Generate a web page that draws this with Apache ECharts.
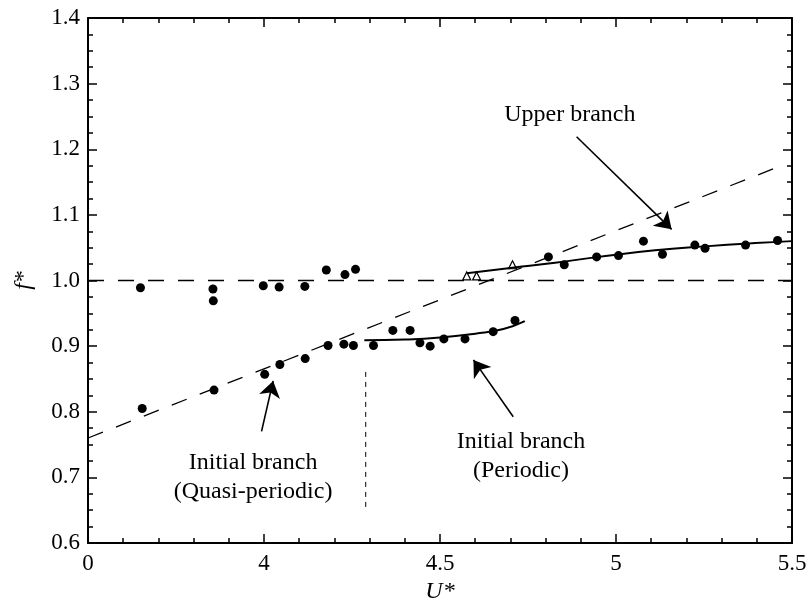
<!DOCTYPE html>
<html>
<head>
<meta charset="utf-8">
<script src="https://cdn.jsdelivr.net/npm/echarts@6/dist/echarts.min.js"></script>
<style>html,body{margin:0;padding:0;background:#fff}#chart{width:809px;height:608px}</style>
</head>
<body>
<div id="chart"></div>
<script>
// ---- data ----
const xTickValues = [3.5, 4, 4.5, 5, 5.5];
const xTickLabels = ['0', '4', '4.5', '5', '5.5'];
const circleU = [3.649,3.654,3.855,3.856,3.858,3.998,4.002,4.043,4.045,4.116,4.117,4.177,4.182,4.230,4.227,4.260,4.254,4.311,4.366,4.415,4.443,4.472,4.511,4.571,4.651,4.713,4.808,4.853,4.945,5.007,5.078,5.132,5.224,5.253,5.368,5.459];
const circleF = [0.989,0.805,0.987,0.969,0.833,0.992,0.857,0.990,0.872,0.991,0.881,1.016,0.901,1.009,0.903,1.017,0.901,0.901,0.924,0.924,0.905,0.900,0.911,0.911,0.922,0.939,1.036,1.024,1.036,1.038,1.060,1.040,1.054,1.049,1.054,1.061];
const triU = [4.576, 4.604, 4.706];
const triF = [1.007, 1.007, 1.024];
const periodicFitU = [4.285, 4.40, 4.50, 4.60, 4.68, 4.741];
const periodicFitF = [0.909, 0.910, 0.913, 0.919, 0.926, 0.938];
const upperFitU = [4.576, 4.70, 4.827, 4.95, 5.111, 5.253, 5.395, 5.50];
const upperFitF = [1.011, 1.019, 1.027, 1.036, 1.046, 1.052, 1.057, 1.060];
const unityU = [3.5, 5.5];
const unityF = [1.0, 1.0];
const diagU = [3.5, 5.47];
const diagF = [0.76, 1.175];
const splitU = [4.289, 4.289];
const splitF = [0.655, 0.861];
const labelTexts = ['Upper branch', 'Initial branch\n(Quasi-periodic)', 'Initial branch\n(Periodic)'];
const labelU = [4.869, 3.969, 4.730];
const labelF = [1.252, 0.700, 0.732];
const arrowFromU = [4.888, 3.993, 4.708];
const arrowFromF = [1.219, 0.770, 0.7925];
const arrowToU = [5.158, 4.026, 4.595];
const arrowToF = [1.078, 0.847, 0.879];

const zip = (a, b) => a.map((v, i) => [v, b[i]]);
const FONT = '"Liberation Serif", "Times New Roman", serif';
const INK = '#000';

const axisCommon = {
  axisLine: { show: true, onZero: false, lineStyle: { color: INK, width: 2 } },
  axisTick: { show: true, inside: true, length: 9, lineStyle: { color: INK, width: 1.5 } },
  minorTick: { show: true, length: 5, lineStyle: { color: INK, width: 1.5 } },
  splitLine: { show: false }
};

const chart = echarts.init(document.getElementById('chart'), null, { renderer: 'canvas' });
const option = {
  animation: false,
  backgroundColor: '#fff',
  grid: { left: 88, right: 17, top: 18, bottom: 65, containLabel: false, outerBoundsMode: 'none' },
  xAxis: [
    Object.assign({}, axisCommon, {
      type: 'value', min: 3.5, max: 5.5, interval: 0.5, position: 'bottom',
      minorTick: Object.assign({}, axisCommon.minorTick, { splitNumber: 5 }),
      axisLabel: { margin: 9, color: INK, fontFamily: FONT, fontSize: 23,
        formatter: v => { const i = xTickValues.findIndex(t => Math.abs(t - v) < 1e-6); return i >= 0 ? xTickLabels[i] : ''; } },
      name: 'U*', nameLocation: 'middle', nameGap: 30,
      nameTextStyle: { fontFamily: FONT, fontStyle: 'italic', fontSize: 24, color: INK }
    }),
    Object.assign({}, axisCommon, {
      type: 'value', min: 3.5, max: 5.5, interval: 0.5, position: 'top',
      minorTick: Object.assign({}, axisCommon.minorTick, { splitNumber: 5 }),
      axisLabel: { show: false }
    })
  ],
  yAxis: [
    Object.assign({}, axisCommon, {
      type: 'value', min: 0.6, max: 1.4, interval: 0.1, position: 'left',
      minorTick: Object.assign({}, axisCommon.minorTick, { splitNumber: 4 }),
      axisLabel: { margin: 8, color: INK, fontFamily: FONT, fontSize: 23, formatter: v => v.toFixed(1) },
      name: 'f*', nameLocation: 'middle', nameGap: 52,
      nameTextStyle: { fontFamily: FONT, fontStyle: 'italic', fontSize: 24, color: INK }
    }),
    Object.assign({}, axisCommon, {
      type: 'value', min: 0.6, max: 1.4, interval: 0.1, position: 'right',
      minorTick: Object.assign({}, axisCommon.minorTick, { splitNumber: 4 }),
      axisLabel: { show: false }
    })
  ],
  series: [
    { type: 'line', data: zip(unityU, unityF), showSymbol: false, symbol: 'none', silent: true,
      lineStyle: { color: INK, width: 1.3, type: [16, 14] } },
    { type: 'line', data: zip(diagU, diagF), showSymbol: false, symbol: 'none', silent: true,
      lineStyle: { color: INK, width: 1.3, type: [16, 14] } },
    { type: 'line', data: zip(splitU, splitF), showSymbol: false, symbol: 'none', silent: true,
      lineStyle: { color: INK, width: 1, type: [5, 5] } },
    { type: 'line', data: zip(periodicFitU, periodicFitF), showSymbol: false, symbol: 'none', smooth: true, silent: true,
      lineStyle: { color: INK, width: 2 } },
    { type: 'line', data: zip(upperFitU, upperFitF), showSymbol: false, symbol: 'none', smooth: true, silent: true,
      lineStyle: { color: INK, width: 2 } },
    { type: 'scatter', data: zip(circleU, circleF), symbol: 'circle', symbolSize: 9,
      itemStyle: { color: INK, opacity: 1 } },
    { type: 'scatter', data: zip(triU, triF), symbol: 'triangle', symbolSize: 8,
      itemStyle: { color: '#fff', borderColor: INK, borderWidth: 1.2, opacity: 1 } },
    { type: 'scatter', silent: true,
      data: labelU.map((u, i) => ({ value: [u, labelF[i]], name: labelTexts[i] })),
      symbolSize: 1, itemStyle: { color: '#fff', opacity: 1 },
      label: { show: true, position: 'inside', formatter: p => p.name, color: INK, opacity: 1,
        textBorderWidth: 0, fontFamily: FONT, fontSize: 24, lineHeight: 29, align: 'center', verticalAlign: 'middle' },
      markLine: {
        silent: true, symbol: ['none', 'arrow'], symbolSize: 16,
        label: { show: false },
        lineStyle: { color: INK, width: 1.6, type: 'solid', opacity: 1 },
        data: arrowFromU.map((u, i) => [{ coord: [u, arrowFromF[i]] }, { coord: [arrowToU[i], arrowToF[i]] }])
      }
    }
  ]
};
chart.setOption(option);
</script>
</body>
</html>
